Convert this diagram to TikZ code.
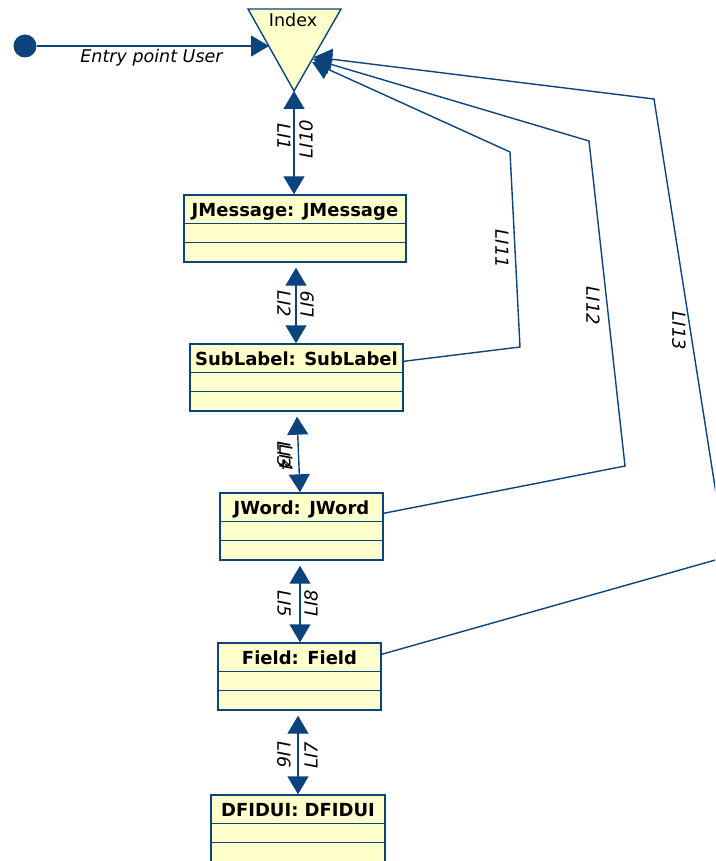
\documentclass[tikz,border=0pt]{standalone}
\usepackage{fontspec}
\setmainfont{DejaVu Sans}
\usetikzlibrary{arrows.meta,calc}
\definecolor{umlblue}{RGB}{11,68,124}
\definecolor{umlfill}{RGB}{255,255,204}
\begin{document}
\begin{tikzpicture}[x=1pt,y=-1pt,
  line/.style={draw=umlblue,line width=1.4pt},
  arr/.style={line,-{Triangle[length=18pt,width=21pt]}},
  dbl/.style={line,{Triangle[length=18pt,width=21pt]}-{Triangle[length=18pt,width=21pt]}},
  classbox/.style={draw=umlblue,fill=umlfill,line width=1.4pt,inner sep=0pt,minimum height=67pt},
  title/.style={font=\fontsize{18}{21}\selectfont\bfseries,inner sep=0pt,anchor=base},
  lbl/.style={font=\fontsize{18}{21}\selectfont\itshape,inner sep=0pt},
  lblL/.style={lbl,rotate=-90},
  lblR/.style={lbl,rotate=90},
]
\useasboundingbox (0,0) rectangle (715,861);
\clip (0,0) rectangle (715,861);

% Index triangle
\coordinate (idxL) at (248,9);
\coordinate (idxR) at (341,9);
\coordinate (idxB) at (294,91);
\draw[line,fill=umlfill] (idxL) -- (idxR) -- (idxB) -- cycle;
\node[font=\fontsize{17.5}{20}\selectfont,inner sep=0pt,anchor=base] (idx) at (293,27) {Index};

% entry point
\node[circle,fill=umlblue,inner sep=0pt,minimum size=23pt] (start) at (25,46) {};
\coordinate (entryTip) at (269,46);
\draw[arr] (start) -- (entryTip);
\node[font=\fontsize{17.5}{20}\selectfont\itshape,inner sep=0pt,anchor=base] (entryLbl) at (151.5,63) {Entry point User};

% class boxes
\node[classbox,minimum width=222pt] (jm) at (295,228.5) {};
\node[title] (jmT) at ($(jm.north)+(0,22)$) {JMessage: JMessage};
\draw[line] ($(jm.north west)+(0,29)$) -- ($(jm.north east)+(0,29)$);
\draw[line] ($(jm.north west)+(0,48)$) -- ($(jm.north east)+(0,48)$);

\node[classbox,minimum width=213pt] (sl) at (296.5,377.5) {};
\node[title] (slT) at ($(sl.north)+(0,22)$) {SubLabel: SubLabel};
\draw[line] ($(sl.north west)+(0,29)$) -- ($(sl.north east)+(0,29)$);
\draw[line] ($(sl.north west)+(0,48)$) -- ($(sl.north east)+(0,48)$);

\node[classbox,minimum width=163pt] (jw) at (301.5,526.5) {};
\node[title] (jwT) at ($(jw.north)+(0,22)$) {JWord: JWord};
\draw[line] ($(jw.north west)+(0,29)$) -- ($(jw.north east)+(0,29)$);
\draw[line] ($(jw.north west)+(0,48)$) -- ($(jw.north east)+(0,48)$);

\node[classbox,minimum width=163pt] (fd) at (299.5,676.5) {};
\node[title] (fdT) at ($(fd.north)+(0,22)$) {Field: Field};
\draw[line] ($(fd.north west)+(0,29)$) -- ($(fd.north east)+(0,29)$);
\draw[line] ($(fd.north west)+(0,48)$) -- ($(fd.north east)+(0,48)$);

\node[classbox,minimum width=174pt] (df) at (298,828.5) {};
\node[title] (dfT) at ($(df.north)+(0,22)$) {DFIDUI: DFIDUI};
\draw[line] ($(df.north west)+(0,29)$) -- ($(df.north east)+(0,29)$);
\draw[line] ($(df.north west)+(0,48)$) -- ($(df.north east)+(0,48)$);

% vertical double-headed connectors
\coordinate (b1) at (idxB |- jm.north);
\draw[dbl] (idxB) -- (b1);
\node[lblL] (l1) at (284,137) {LI1};
\node[lblR] (l10) at (306,139) {LI10};

\coordinate (a2) at ($(jm.south)+(1,5)$);
\coordinate (b2) at (a2 |- sl.north);
\draw[dbl] (a2) -- (b2);
\node[lblL] (l2) at (284,304) {LI2};
\node[lblR] (l9) at (307,304) {LI9};

\coordinate (a3) at ($(sl.south)+(0.5,5)$);
\coordinate (b3) at ($(jw.north)+(-1.5,0)$);
\draw[dbl] (a3) -- (b3);
\node[lblL] (l3) at (284,455) {LI3};
\node[lblL] (l4) at (286,458) {LI4};

\coordinate (a4) at ($(jw.south)+(-1.5,5)$);
\coordinate (b4) at (a4 |- fd.north);
\draw[dbl] (a4) -- (b4);
\node[lblL] (l5) at (284,604) {LI5};
\node[lblR] (l8) at (311,603) {LI8};

\coordinate (a5) at ($(fd.south)+(-1.5,5)$);
\coordinate (b5) at (a5 |- df.north);
\draw[dbl] (a5) -- (b5);
\node[lblL] (l6) at (284,755) {LI6};
\node[lblR] (l7) at (311,755) {LI7};

% long connectors back to Index
\coordinate (t11) at (312,62);
\coordinate (t12) at (313,59);
\coordinate (t13) at (314,57);
\draw[arr] ($(fd.north east)+(0,12)$) -- (726,557) -- (654,99) -- (t13);
\draw[arr] ($(jw.north east)+(0,21)$) -- (625,466) -- (589,141) -- (t12);
\draw[arr] ($(sl.north east)+(0,18)$) -- (520,347) -- (510,152) -- (t11);
\node[lblL] (l11) at (502,249) {LI11};
\node[lblL] (l12) at (593,306) {LI12};
\node[lblL] (l13) at (679,331) {LI13};
\end{tikzpicture}
\end{document}
